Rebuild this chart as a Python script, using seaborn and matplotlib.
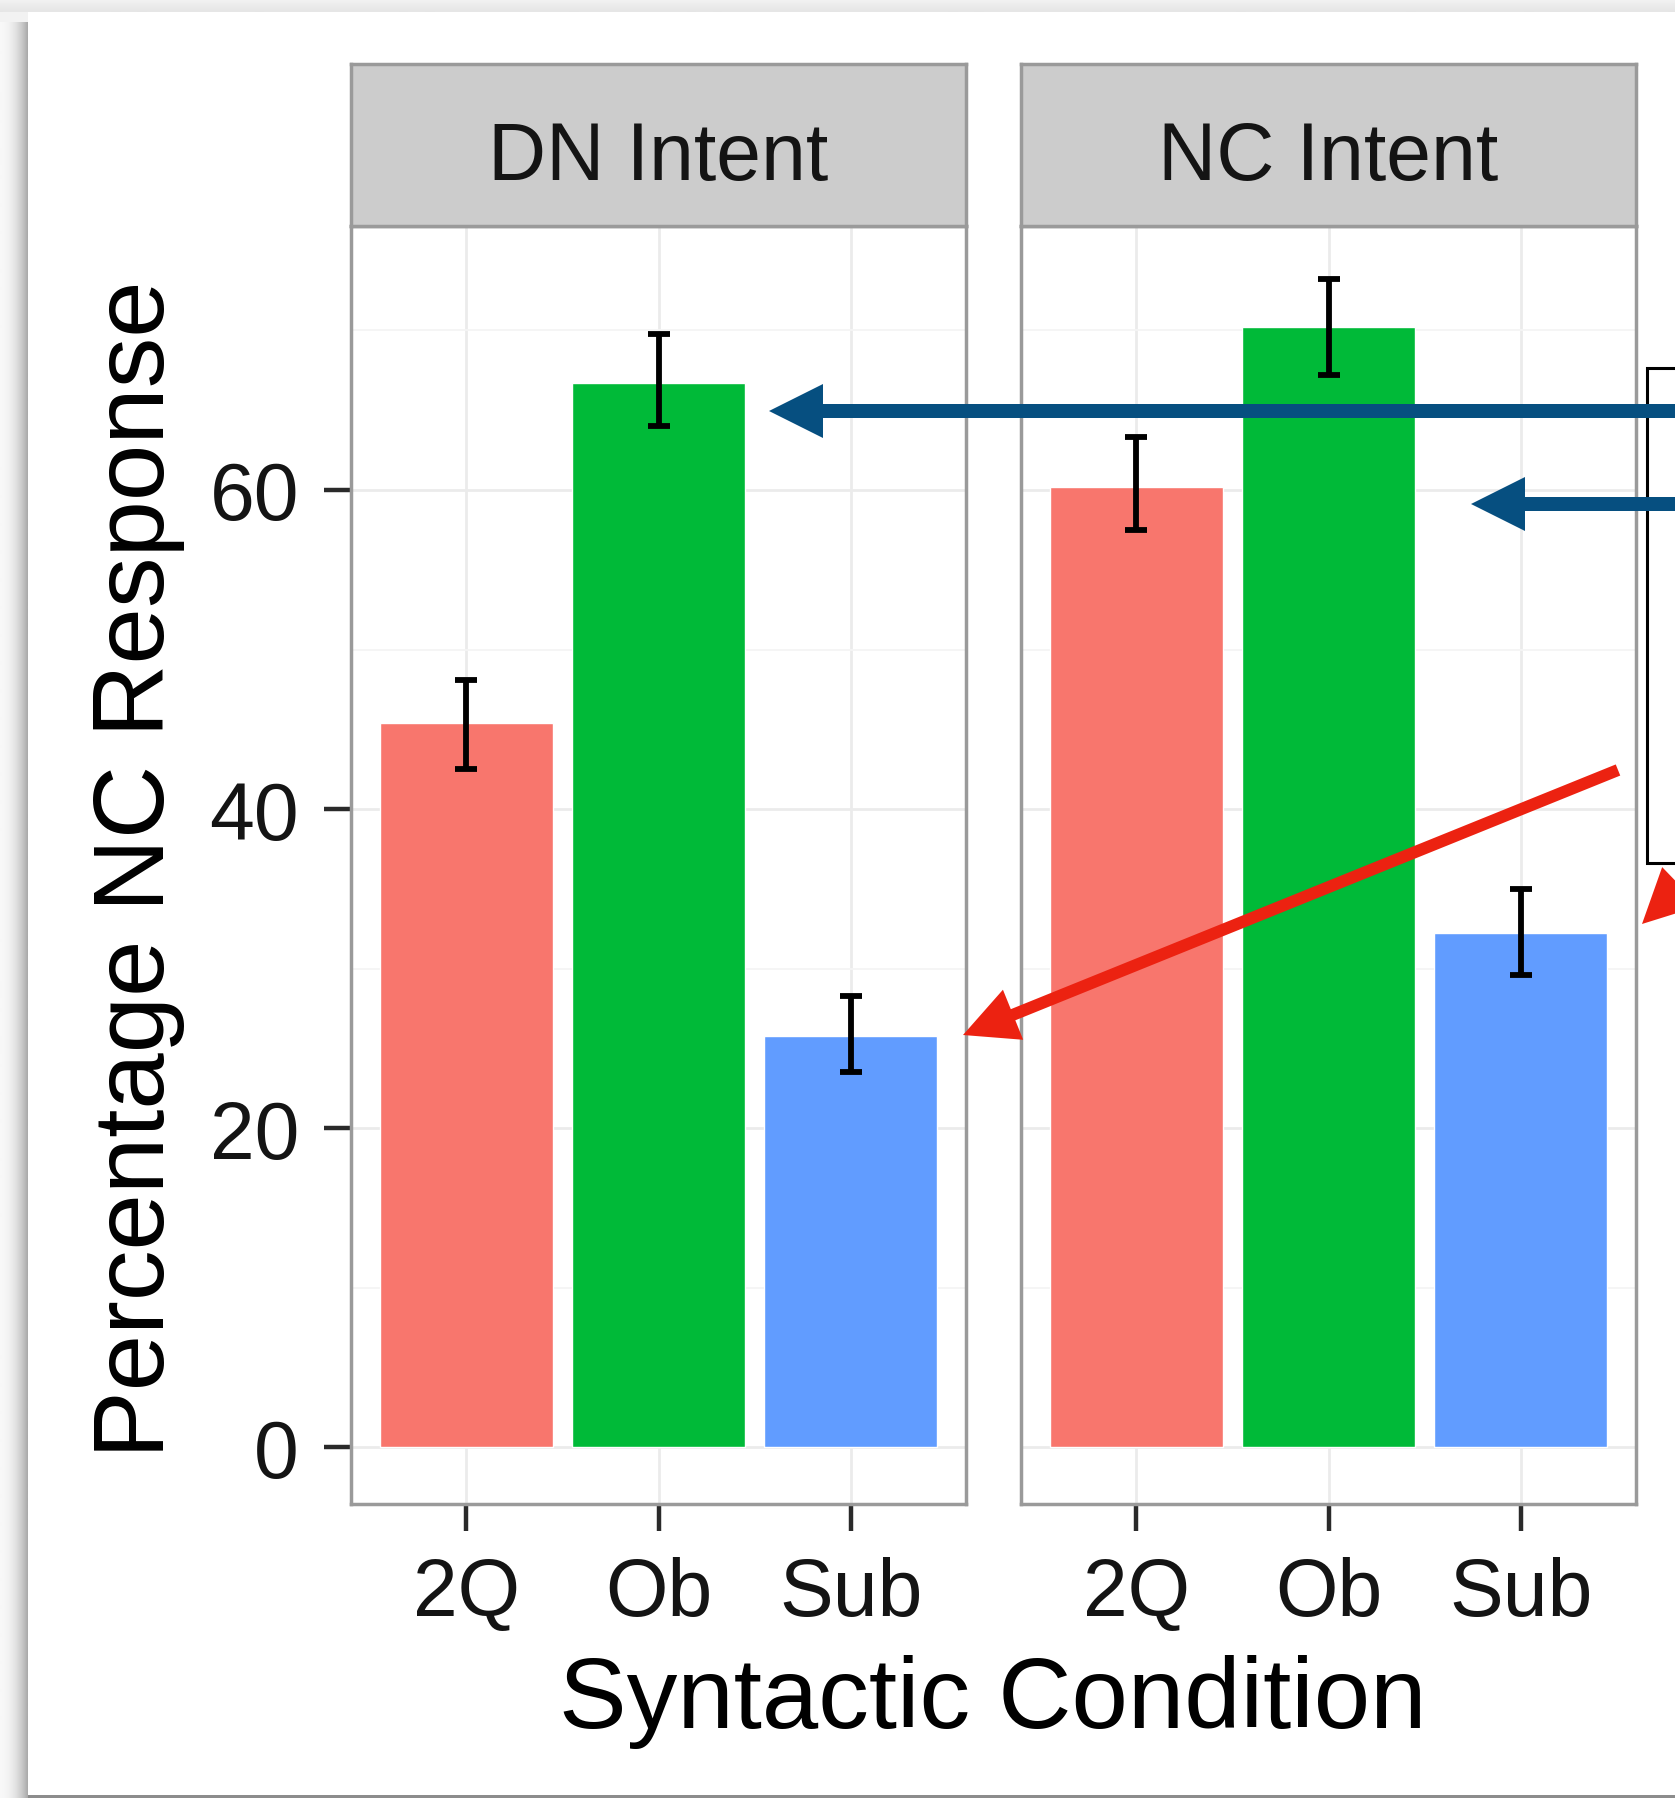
import numpy as np
import pandas as pd
import matplotlib
matplotlib.use('Agg')
import matplotlib.pyplot as plt
from matplotlib.patches import Rectangle, FancyArrow
import seaborn as sns

# ── DATA ──────────────────────────────────────────────────────
panels = ['DN Intent', 'NC Intent']
conditions = ['2Q', 'Ob', 'Sub']
dn_pct = [45.4, 66.7, 25.8]
dn_lo = [42.5, 64.0, 23.5]
dn_hi = [48.1, 69.8, 28.3]
nc_pct = [60.2, 70.2, 32.2]
nc_lo = [57.5, 67.2, 29.6]
nc_hi = [63.3, 73.2, 35.0]
palette = ['#F8766D', '#00BA38', '#619CFF']

df = pd.DataFrame({
    'intent': [panels[0]] * 3 + [panels[1]] * 3,
    'cond': conditions * 2,
    'pct': dn_pct + nc_pct,
    'lo': dn_lo + nc_lo,
    'hi': dn_hi + nc_hi,
})

# ── SETUP ─────────────────────────────────────────────────────
sns.set_theme(style="white")
plt.rcParams['font.family'] = ['Liberation Sans', 'DejaVu Sans']

W, H = 1675, 1799
fig = plt.figure(figsize=(W / 100, H / 100), dpi=100)
fig.patch.set_facecolor('white')


def rect(l, t, r, b):
    return [l / W, 1 - b / H, (r - l) / W, (b - t) / H]


# background "card" shadow
bg = fig.add_axes([0, 0, 1, 1], zorder=-5)
bg.set_xlim(0, W); bg.set_ylim(H, 0); bg.axis('off')
t = np.linspace(0, 1, 28)
left = (0.97 - 0.30 * t ** 2.2)[None, :]
bg.imshow(np.repeat(left, 2, axis=0), cmap='gray', vmin=0, vmax=1,
          extent=(0, 28, 1799, 22), aspect='auto', interpolation='bilinear')
top = np.linspace(0.95, 0.90, 13)[:, None]
bg.imshow(np.repeat(top, 2, axis=1), cmap='gray', vmin=0, vmax=1,
          extent=(0, W, 13, 0), aspect='auto', interpolation='bilinear')
bg.add_patch(Rectangle((0, 13), 28, 10, color='#F2F2F2', lw=0))
bg.add_patch(Rectangle((28, 1796), W, 4, color='#8C8C8C', lw=0))

# ── PANELS ────────────────────────────────────────────────────
panel_x = [(351, 966), (1021, 1636)]
for i, name in enumerate(panels):
    l, r = panel_x[i]
    ax = fig.add_axes(rect(l, 227, r, 1505))
    sub = df[df['intent'] == name]
    sns.barplot(data=sub, x='cond', y='pct', hue='cond', palette=palette,
                order=conditions, hue_order=conditions, width=0.9,
                saturation=1, errorbar=None, legend=False, ax=ax, zorder=2)
    ax.errorbar(range(len(conditions)), sub['pct'],
                yerr=[sub['pct'] - sub['lo'], sub['hi'] - sub['pct']],
                fmt='none', ecolor='black', elinewidth=4.2,
                capsize=8, capthick=4.2, zorder=3)
    ax.set_xlim(-0.6, 2.6)
    ax.set_ylim(-3.57, 76.55)
    ax.set_yticks([0, 20, 40, 60])
    ax.set_yticks([10, 30, 50, 70], minor=True)
    ax.set_xlabel(''); ax.set_ylabel('')
    ax.set_axisbelow(True)
    ax.grid(which='major', axis='both', color='#EBEBEB', lw=2)
    ax.grid(which='minor', axis='y', color='#F4F4F4', lw=1.3)
    for s in ax.spines.values():
        s.set_color('#9A9A9A'); s.set_linewidth(2.5)
    ax.tick_params(which='major', length=19.5, width=3.2, color='#2A2A2A',
                   labelsize=58, labelcolor='#141414', pad=18)
    ax.tick_params(which='minor', length=0)
    ax.tick_params(axis='y', left=True)
    ax.tick_params(axis='x', bottom=True)
    if i > 0:
        ax.tick_params(axis='y', left=False, labelleft=False)

    # facet strip
    st = fig.add_axes(rect(l, 65, r, 227))
    st.set_facecolor('#CCCCCC')
    st.set_xticks([]); st.set_yticks([])
    for s in st.spines.values():
        s.set_color('#9A9A9A'); s.set_linewidth(2.5)
    st.text(0.5, 0.29, name, ha='center', va='baseline', fontsize=58,
            color='#141414', transform=st.transAxes)

fig.text(138 / W, 1 - 869 / H, 'Percentage NC Response', rotation=90,
         ha='center', va='center', fontsize=73, color='black')
fig.text(993 / W, 1 - 1728 / H, 'Syntactic Condition', ha='center',
         va='baseline', fontsize=73, color='black')

# ── CALLOUT BOX AND ARROWS ────────────────────────────────────
deco = fig.add_axes([0, 0, 1, 1], zorder=10)
deco.set_xlim(0, W); deco.set_ylim(H, 0); deco.axis('off')
deco.patch.set_alpha(0)
deco.add_patch(Rectangle((1647, 369), 100, 495, facecolor='white',
                         edgecolor='black', lw=2.2))

blue, red = '#064F80', '#EC2211'
for x0, y0, x1, y1, c, w in [
        (1720, 412, 769, 412, blue, 14),
        (1720, 505, 1471, 505, blue, 14),
        (1618, 771, 963, 1036, red, 12),
        (1750, 821, 1642, 925, red, 12)]:
    deco.add_patch(FancyArrow(x0, y0, x1 - x0, y1 - y0, width=w,
                              head_width=54, head_length=54,
                              length_includes_head=True, color=c, lw=0))

plt.savefig('out.png', dpi=100)
